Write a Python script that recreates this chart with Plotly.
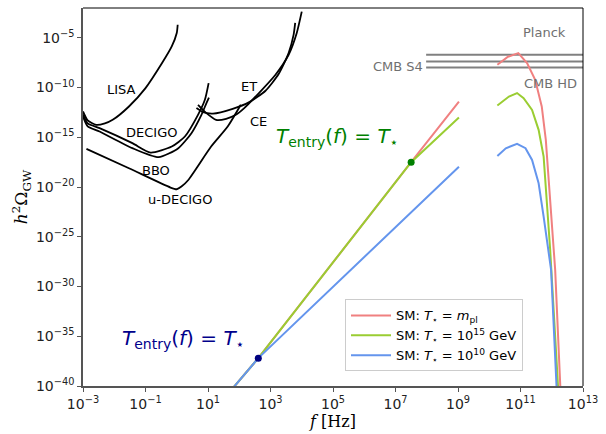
import plotly.graph_objects as go

# ---- data (log10 f [Hz], log10 h^2 Omega_GW) ----
lisa_lf = [-3.0, -2.85, -2.58, -2.3, -2.05, -1.53, -1.0, -0.47, -0.16, 0.0, 0.03]
lisa_lo = [-12.4, -13.3, -13.75, -13.6, -13.24, -11.9, -10.05, -7.53, -5.86, -4.51, -3.68]

decigo_lf = [-3.0, -2.85, -2.47, -1.42, -0.84, -0.16, 0.26, 0.68, 0.90, 1.02]
decigo_lo = [-12.7, -13.6, -14.08, -15.59, -16.54, -15.93, -14.92, -12.74, -11.23, -9.55]

bbo_lf = [-3.0, -2.85, -2.47, -1.42, -0.58, 0.05, 0.47, 0.79, 0.95, 1.03]
bbo_lo = [-12.9, -13.9, -14.42, -16.09, -17.0, -16.09, -14.58, -12.74, -11.56, -11.0]

udecigo_lf = [-2.89, -1.53, -0.2, 0.0, 0.15, 0.37, 1.10, 1.63, 2.05]
udecigo_lo = [-16.16, -18.11, -20.05, -20.22, -19.95, -19.29, -15.93, -13.92, -11.73]

et_lf = [0.63, 0.84, 1.16, 1.79, 2.32, 2.84, 3.26, 3.58, 3.74, 3.79]
et_lo = [-12.06, -12.47, -12.61, -12.13, -11.46, -10.32, -8.64, -6.53, -4.68, -3.50]

ce_lf = [0.68, 0.95, 1.26, 1.58, 1.89, 2.16, 2.63, 3.16, 3.58, 3.84, 4.0]
ce_lo = [-11.73, -12.57, -13.24, -13.14, -12.74, -12.06, -10.55, -8.71, -6.70, -4.51, -2.37]

cmb_names = ["Planck", "CMB S4", "CMB HD"]
cmb_lo = [-6.70, -7.37, -7.98]
cmb_lf = [7.98, 13.0]

# SM spectra: low-frequency branch, gap, high-frequency branch
red_lf = [1.80, 2.61, 7.5, 9.03, None, 10.26, 10.6, 10.93, 11.21, 11.47, 11.68, 11.81, 11.95, 12.06, 12.11, 12.28]
red_lo = [-40.2, -37.2, -17.5, -11.4, None, -7.70, -6.90, -6.53, -7.53, -9.21, -11.9, -15.26, -21.3, -26.33, -28.35, -40.5]

green_lf = [1.80, 2.61, 7.5, 9.03, None, 10.26, 10.63, 10.89, 11.10, 11.37, 11.58, 11.74, 11.84, 11.95, 12.21]
green_lo = [-40.2, -37.2, -17.5, -13.0, None, -11.8, -10.9, -10.55, -11.06, -12.24, -14.25, -16.94, -21.3, -26.33, -40.5]

blue_lf = [1.80, 2.61, 9.03, None, 10.26, 10.53, 10.89, 11.16, 11.37, 11.58, 11.74, 11.89, 11.98, 12.16]
blue_lo = [-40.2, -37.2, -17.95, None, -16.87, -16.1, -15.66, -16.09, -17.27, -19.62, -22.98, -26.33, -28.35, -40.5]

dot_green = (7.5, -17.5)
dot_blue = (2.61, -37.2)

sm_names = ["SM: <i>T</i><sub>⋆</sub> = <i>m</i><sub>pl</sub>",
            "SM: <i>T</i><sub>⋆</sub> = 10<sup>15</sup> GeV",
            "SM: <i>T</i><sub>⋆</sub> = 10<sup>10</sup> GeV"]
sm_colors = ["#f08080", "#9acd32", "#6495ed"]

xtick_exp = [-3, -1, 1, 3, 5, 7, 9, 11, 13]
ytick_exp = [-40, -35, -30, -25, -20, -15, -10, -5]


def P(a):
    return [None if v is None else 10 ** v for v in a]


fig = go.Figure()

# detectors
for lf, lo in [(lisa_lf, lisa_lo), (decigo_lf, decigo_lo), (bbo_lf, bbo_lo),
               (udecigo_lf, udecigo_lo), (et_lf, et_lo), (ce_lf, ce_lo)]:
    fig.add_trace(go.Scatter(x=P(lf), y=P(lo), mode="lines", showlegend=False,
                             line=dict(color="black", width=1.8, shape="spline", smoothing=0.6),
                             hoverinfo="skip"))

# CMB bounds
for v in cmb_lo:
    fig.add_trace(go.Scatter(x=P(cmb_lf), y=P([v, v]), mode="lines", showlegend=False,
                             line=dict(color="#808080", width=2), hoverinfo="skip"))

# SM curves
for lf, lo, nm, c in [(red_lf, red_lo, sm_names[0], sm_colors[0]),
                      (green_lf, green_lo, sm_names[1], sm_colors[1]),
                      (blue_lf, blue_lo, sm_names[2], sm_colors[2])]:
    fig.add_trace(go.Scatter(x=P(lf), y=P(lo), mode="lines", name=nm,
                             line=dict(color=c, width=2), connectgaps=False, hoverinfo="skip"))

fig.add_trace(go.Scatter(x=P([dot_green[0]]), y=P([dot_green[1]]), mode="markers", showlegend=False,
                         marker=dict(color="green", size=7)))
fig.add_trace(go.Scatter(x=P([dot_blue[0]]), y=P([dot_blue[1]]), mode="markers", showlegend=False,
                         marker=dict(color="navy", size=7)))

ann = []
det_labels = [("LISA", -1.78, -10.2), ("DECIGO", -0.80, -14.5), ("BBO", -0.66, -18.3),
              ("u-DECIGO", 0.10, -21.3), ("ET", 2.31, -9.9), ("CE", 2.60, -13.4)]
for t, x, y in det_labels:
    ann.append(dict(text=t, x=x, y=y, xref="x", yref="y", showarrow=False,
                    font=dict(family="DejaVu Sans", size=13, color="black")))
cmb_labels = [("Planck", 11.78, -4.5, "center"), ("CMB S4", 7.95, -7.85, "right"), ("CMB HD", 11.95, -9.6, "center")]
for t, x, y, al in cmb_labels:
    ann.append(dict(text=t, x=x, y=y, xref="x", yref="y", showarrow=False, xanchor=al,
                    font=dict(family="DejaVu Sans", size=13, color="#707070")))
ttxt = "<i>T</i><sub>entry</sub>(<i>f</i>) = <i>T</i><sub>⋆</sub>"
ann.append(dict(text=ttxt, x=5.12, y=-15.0, xref="x", yref="y", showarrow=False,
                font=dict(family="DejaVu Sans", size=20, color="green")))
ann.append(dict(text=ttxt, x=0.21, y=-35.3, xref="x", yref="y", showarrow=False,
                font=dict(family="DejaVu Sans", size=20, color="#00008b")))

fig.update_layout(
    width=606, height=434,
    margin=dict(l=83, r=16, t=8, b=48),
    paper_bgcolor="white", plot_bgcolor="white",
    font=dict(family="DejaVu Sans", size=13, color="#222"),
    annotations=ann,
    showlegend=True,
    legend=dict(x=0.524, y=0.229, xanchor="left", yanchor="top",
                bgcolor="white", bordercolor="#cccccc", borderwidth=1,
                font=dict(family="DejaVu Sans", size=13, color="black"),
                tracegroupgap=0, itemwidth=40),
    hovermode=False,
)
fig.update_xaxes(type="log", range=[-3, 13], showgrid=False, zeroline=False,
                 tickvals=[10 ** e for e in xtick_exp],
                 ticktext=["10<sup>%s</sup>" % (str(e).replace("-", "−")) for e in xtick_exp],
                 tickfont=dict(size=14, color="#222"),
                 ticks="outside", ticklen=4, tickcolor="#555",
                 showline=True, linecolor="#555", linewidth=1.5, mirror=False,
                 title=dict(text="<i>f</i> [Hz]", font=dict(family="DejaVu Serif", size=16, color="black"),
                            standoff=3))
fig.update_yaxes(type="log", range=[-40, -2], showgrid=False, zeroline=False,
                 tickvals=[10 ** e for e in ytick_exp],
                 ticktext=["10<sup>%s</sup>" % (str(e).replace("-", "−")) for e in ytick_exp],
                 tickfont=dict(size=14, color="#222"),
                 ticks="outside", ticklen=4, tickcolor="#555",
                 showline=True, linecolor="#555", linewidth=1.5, mirror=False,
                 title=dict(text="<i>h</i><sup>2</sup>Ω<sub>GW</sub>",
                            font=dict(family="DejaVu Serif", size=17, color="black"), standoff=4))
# top/right frame
fig.add_shape(type="line", xref="paper", yref="paper", x0=0, x1=1, y0=1, y1=1,
              line=dict(color="black", width=1))
fig.add_shape(type="line", xref="paper", yref="paper", x0=1, x1=1, y0=0, y1=1,
              line=dict(color="black", width=1))

fig.write_html("out.html")
